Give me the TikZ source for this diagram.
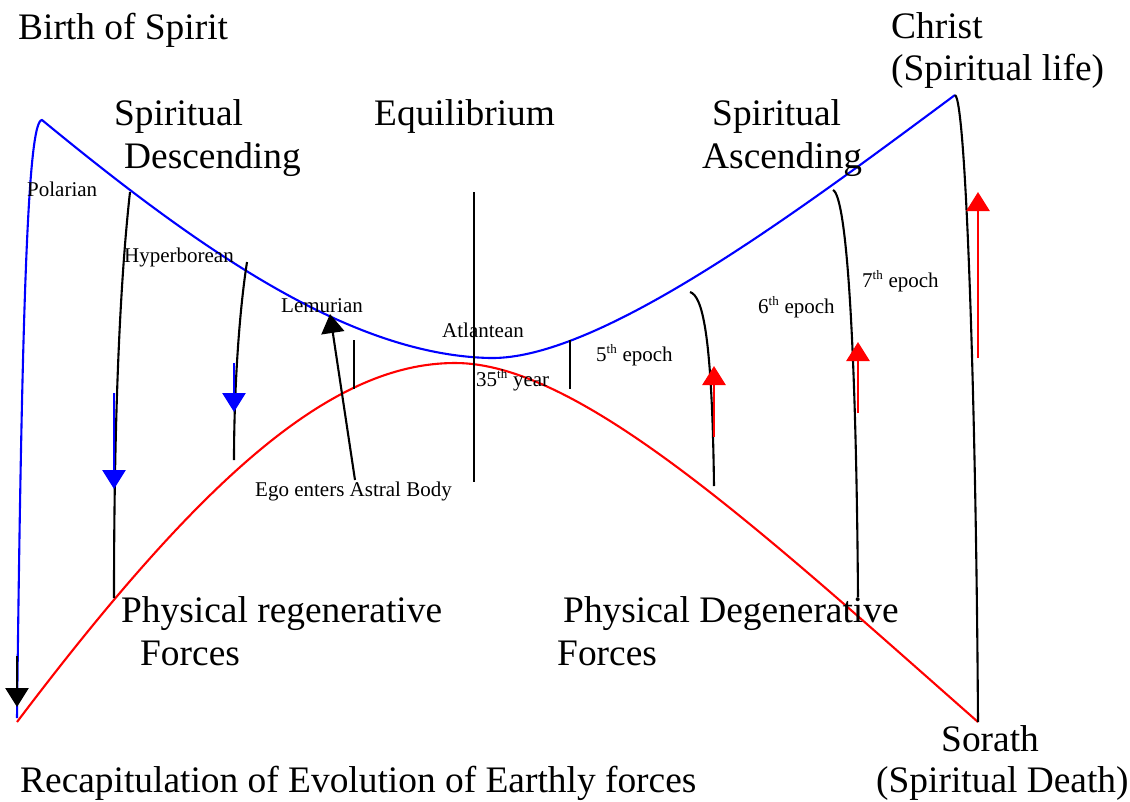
\documentclass[tikz,border=0pt]{standalone}
\usepackage{fontspec}
\setmainfont{Liberation Serif}
\usetikzlibrary{arrows.meta}
\tikzset{
  big/.style={font=\fontsize{37.4}{43}\selectfont, inner sep=0pt, anchor=base west},
  small/.style={font=\fontsize{21}{24}\selectfont, inner sep=0pt, anchor=base west},
  bluecurve/.style={draw=blue, line width=2.1pt},
  redcurve/.style={draw=red, line width=2.1pt},
  divider/.style={draw=black, line width=2.1pt},
  barrow/.style={line width=2.8pt, -{Triangle[width=23pt,length=19pt]}},
}
\newcommand{\thsup}{\textsuperscript{\fontsize{13}{13}\selectfont th}}
\begin{document}
\begin{tikzpicture}[x=1pt,y=-1pt]
\useasboundingbox (0,0) rectangle (1130,801);
% main curves
\draw[bluecurve] (17,718) .. controls (22,300) and (28,120) .. (42,120)
   .. controls (200,250) and (350,355) .. (490,358)
   .. controls (600,360) and (800,210) .. (955,95);
\draw[redcurve] (17,722) .. controls (200,480) and (330,363) .. (455,363)
   .. controls (580,363) and (760,530) .. (978,722);
\draw[divider] (955,95) .. controls (966,100) and (976,400) .. (978,722);
% dividers
\draw[divider] (130,192) .. controls (118,300) and (114,450) .. (114,598);
\draw[divider] (247,262) .. controls (238,320) and (234,400) .. (234,460);
\draw[divider] (354,340) -- (354,389);
\draw[divider] (474,192) -- (474,482);
\draw[divider] (570,340) -- (570,389);
\draw[divider] (690,292) .. controls (702,296) and (712,330) .. (714,486);
\draw[divider] (833,190) .. controls (846,196) and (856,330) .. (858,597);
% arrow endpoints
\coordinate (a0s) at (17,656); \coordinate (a0e) at (17,707);
\coordinate (b1s) at (114,393); \coordinate (b1e) at (114,489);
\coordinate (b2s) at (234,363); \coordinate (b2e) at (234,412);
\coordinate (egos) at (355,480); \coordinate (egoe) at (330,314);
\coordinate (r1s) at (714,437); \coordinate (r1e) at (714,366);
\coordinate (r2s) at (858,413); \coordinate (r2e) at (858,342);
\coordinate (r3s) at (978,358); \coordinate (r3e) at (978,192);
\draw[barrow, black] (a0s) -- (a0e);
\draw[barrow, blue] (b1s) -- (b1e);
\draw[barrow, blue] (b2s) -- (b2e);
\draw[barrow, black, line width=2.1pt] (egos) -- (egoe);
\draw[barrow, red] (r1s) -- (r1e);
\draw[barrow, red] (r2s) -- (r2e);
\draw[barrow, red] (r3s) -- (r3e);
% big labels
\node[big] (birth) at (18,39) {Birth of Spirit};
\node[big] (sd1) at (114,125) {Spiritual};
\node[big] (sd2) at (124,168) {Descending};
\node[big] (equ) at (374,125) {Equilibrium};
\node[big] (sa1) at (712,125) {Spiritual};
\node[big] (sa2) at (702,168) {Ascending};
\node[big] (christ1) at (891,38) {Christ};
\node[big] (christ2) at (891,80) {(Spiritual life)};
\node[big] (pr1) at (121,622) {Physical regenerative};
\node[big] (pr2) at (140,665) {Forces};
\node[big] (pd1) at (563,622) {Physical Degenerative};
\node[big] (pd2) at (557,665) {Forces};
\node[big] (sor1) at (941,751) {Sorath};
\node[big] (sor2) at (876,792) {(Spiritual Death)};
\node[big] (recap) at (20,792) {Recapitulation of Evolution of Earthly forces};
% small labels
\node[small] (pol) at (27,196) {Polarian};
\node[small] (hyp) at (124,262) {Hyperborean};
\node[small] (lem) at (281,312) {Lemurian};
\node[small] (atl) at (442,337) {Atlantean};
\node[small] (y35) at (476,386) {35\thsup{} year};
\node[small] (e5) at (596,361) {5\thsup{} epoch};
\node[small] (e6) at (758,313) {6\thsup{} epoch};
\node[small] (e7) at (862,287) {7\thsup{} epoch};
\node[small] (ego) at (255,496) {Ego enters Astral Body};
\end{tikzpicture}
\end{document}
